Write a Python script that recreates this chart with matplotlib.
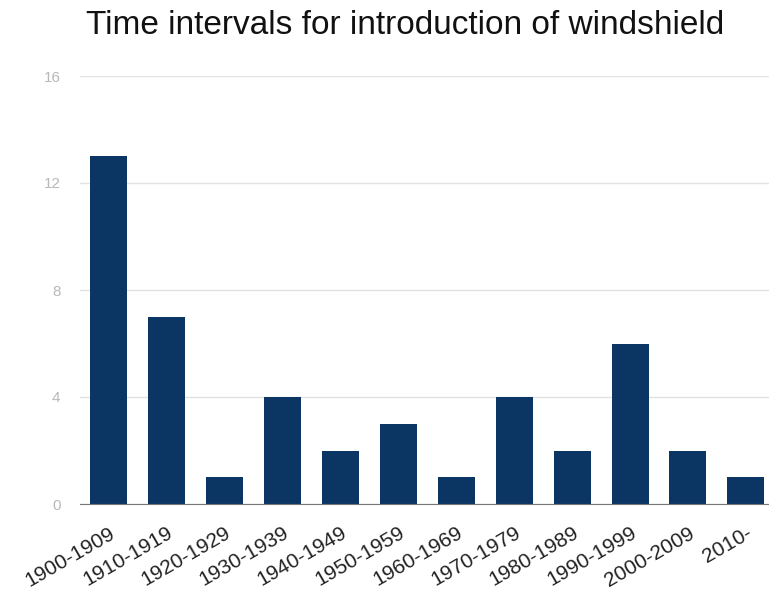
import matplotlib.pyplot as plt

plt.rcParams["font.family"] = ["Liberation Sans", "DejaVu Sans"]

# data
intervals = [
    "1900-1909", "1910-1919", "1920-1929", "1930-1939", "1940-1949",
    "1950-1959", "1960-1969", "1970-1979", "1980-1989", "1990-1999",
    "2000-2009", "2010-",
]
counts = [13, 7, 1, 4, 2, 3, 1, 4, 2, 6, 2, 1]
y_ticks = [0, 4, 8, 12, 16]

fig = plt.figure(figsize=(7.69, 5.91), dpi=100)
ax = fig.add_axes([80 / 769, 1 - 504 / 591, 689 / 769, 428 / 591])

x = list(range(len(intervals)))
ax.bar(x, counts, width=0.64, color="#0b3563", zorder=3)

ax.set_xlim(-0.5, 11.4)
ax.set_ylim(0, 16)
ax.set_yticks(y_ticks)
ax.set_yticklabels([str(t) for t in y_ticks], color="#b8b8b8", fontsize=11)
ax.tick_params(axis="y", length=0, pad=14)
ax.yaxis.grid(True, color="#e2e2e2", linewidth=1, zorder=0)

ax.set_xticks(x)
ax.set_xticklabels(intervals, rotation=30, ha="right", rotation_mode="anchor",
                   fontsize=15, color="#222222")
ax.tick_params(axis="x", length=0, pad=14)

for side in ["top", "right", "left"]:
    ax.spines[side].set_visible(False)
ax.spines["bottom"].set_color("#777777")
ax.spines["bottom"].set_zorder(4)

fig.text(0.527, 1 - 25 / 591, "Time intervals for introduction of windshield",
         ha="center", va="center", fontsize=24, color="#111111")

fig.savefig("out.png", dpi=100)
